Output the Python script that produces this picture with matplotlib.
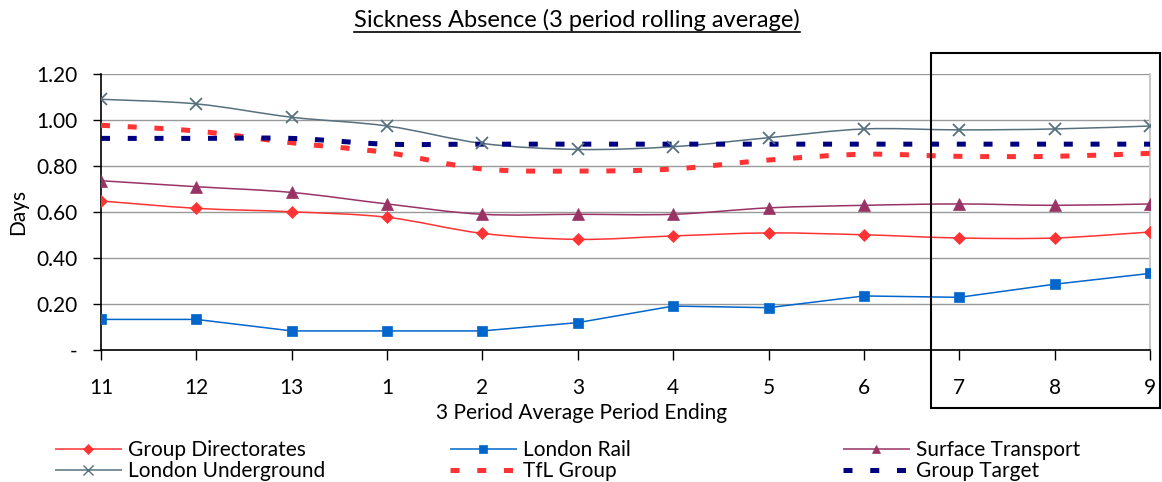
import matplotlib
matplotlib.use("Agg")
import matplotlib.pyplot as plt
from matplotlib.path import Path
from matplotlib.patches import PathPatch, Rectangle
from matplotlib.lines import Line2D
import numpy as np

plt.rcParams['font.family'] = ['Lato', 'DejaVu Sans']

periods = ["11", "12", "13", "1", "2", "3", "4", "5", "6", "7", "8", "9"]

group_directorates = [0.648, 0.616, 0.601, 0.577, 0.507, 0.481, 0.496, 0.509, 0.501, 0.487, 0.487, 0.513]
london_rail = [0.133, 0.133, 0.083, 0.083, 0.083, 0.119, 0.191, 0.184, 0.235, 0.229, 0.286, 0.333]
surface_transport = [0.736, 0.710, 0.685, 0.635, 0.590, 0.590, 0.590, 0.618, 0.629, 0.635, 0.629, 0.635]
london_underground = [1.090, 1.070, 1.012, 0.974, 0.898, 0.872, 0.884, 0.923, 0.961, 0.957, 0.961, 0.974]
tfl_group = [0.977, 0.952, 0.901, 0.858, 0.787, 0.778, 0.787, 0.826, 0.851, 0.842, 0.842, 0.855]
group_target = [0.920, 0.920, 0.920, 0.895, 0.895, 0.895, 0.895, 0.895, 0.895, 0.895, 0.895, 0.895]

yticks = [0.0, 0.2, 0.4, 0.6, 0.8, 1.0, 1.2]
ytick_labels = ["-", "0.20", "0.40", "0.60", "0.80", "1.00", "1.20"]


def series_path(x, y, tension=1.0 / 6.0):
    """Bezier path through every point (spreadsheet-style smoothed line).
    tension=0 gives straight segments."""
    pts = np.column_stack([x, y]).astype(float)
    n = len(pts)
    verts = [pts[0]]
    codes = [Path.MOVETO]
    for i in range(n - 1):
        p0 = pts[i - 1] if i > 0 else pts[i]
        p1 = pts[i]
        p2 = pts[i + 1]
        p3 = pts[i + 2] if i + 2 < n else pts[i + 1]
        c1 = p1 + (p2 - p0) * tension
        c2 = p2 - (p3 - p1) * tension
        verts += [c1, c2, p2]
        codes += [Path.CURVE4] * 3
    return Path(verts, codes)


fig = plt.figure(figsize=(11.62, 4.82), dpi=100)
ax = fig.add_axes([101 / 1162, 1 - 350 / 482, (1150 - 101) / 1162, (350 - 74) / 482])

x = np.arange(len(periods))
dash = (0, (1.8, 3.55))

series = [
    dict(y=group_directorates, label="Group Directorates", color="#FF3333", marker="D", ms=6, ls="-", lw=1.1, t=1 / 6),
    dict(y=london_rail, label="London Rail", color="#0066CC", marker="s", ms=6.5, ls="-", lw=1.1, t=0.0),
    dict(y=surface_transport, label="Surface Transport", color="#993366", marker="^", ms=8, ls="-", lw=1.1, t=1 / 6),
    dict(y=london_underground, label="London Underground", color="#56707E", marker="x", ms=8.5, ls="-", lw=1.1, t=1 / 6),
    dict(y=tfl_group, label="TfL Group", color="#FF3333", marker=None, ms=0, ls=dash, lw=3.6, t=1 / 6),
    dict(y=group_target, label="Group Target", color="#000080", marker=None, ms=0, ls=dash, lw=3.6, t=1 / 6),
]

handles = {}
for s in series:
    patch = PathPatch(series_path(x, s["y"], s["t"]), fill=False, edgecolor=s["color"],
                      linewidth=s["lw"], linestyle=s["ls"], capstyle="butt", zorder=3)
    ax.add_patch(patch)
    if s["marker"]:
        mew = 1.3 if s["marker"] == "x" else 0.5
        ax.plot(x, s["y"], linestyle="none", marker=s["marker"], markersize=s["ms"],
                color=s["color"], markeredgecolor=s["color"], markeredgewidth=mew, zorder=4)
    handles[s["label"]] = Line2D([], [], color=s["color"], linewidth=s["lw"],
                                 linestyle=s["ls"],
                                 marker=s["marker"], markersize=s["ms"] * 0.8,
                                 markeredgewidth=1.0 if s["marker"] == "x" else 0.5,
                                 solid_capstyle="butt", dash_capstyle="butt")

ax.set_xlim(0, len(periods) - 1)
ax.set_ylim(0, 1.2)
ax.set_xticks(x)
ax.set_xticklabels(periods)
ax.set_yticks(yticks)
ax.set_yticklabels(ytick_labels)
ax.tick_params(axis="x", direction="out", length=7, width=1, pad=13, labelsize=15)
ax.tick_params(axis="y", direction="out", length=6, width=1, pad=11, labelsize=15)
ax.yaxis.grid(True, color="#9a9a9a", linewidth=1.0)
ax.set_axisbelow(True)
ax.spines["top"].set_visible(False)
ax.spines["right"].set_color("#c8c8c8")
ax.spines["right"].set_linewidth(1.5)
ax.spines["left"].set_linewidth(1.2)
ax.spines["bottom"].set_linewidth(1.2)

fig.text(18 / 1162, 1 - 212 / 482, "Days", rotation=90, ha="center", va="center", fontsize=15)
fig.text(582 / 1162, 1 - 413 / 482, "3 Period Average Period Ending", ha="center", va="center", fontsize=15)

title = fig.text(577 / 1162, 1 - 20 / 482, "Sickness Absence (3 period rolling average)",
                 ha="center", va="center", fontsize=17)
fig.canvas.draw()
bb = title.get_window_extent(renderer=fig.canvas.get_renderer())
uy = 1 - 32 / 482
fig.add_artist(Line2D([bb.x0 / 1162, bb.x1 / 1162], [uy, uy], transform=fig.transFigure,
                      color="black", linewidth=1.2))

# Highlight box around the latest three periods
fig.add_artist(Rectangle((931 / 1162, 1 - 408 / 482), (1160 - 931) / 1162, (408 - 53) / 482,
                         transform=fig.transFigure, fill=False, edgecolor="black",
                         linewidth=1.5, zorder=10))

columns = [
    (55, ["Group Directorates", "London Underground"]),
    (450, ["London Rail", "TfL Group"]),
    (843, ["Surface Transport", "Group Target"]),
]
for xpos, labels in columns:
    fig.legend([handles[l] for l in labels], labels, loc="upper left",
               bbox_to_anchor=(xpos / 1162, 1 - 440 / 482), bbox_transform=fig.transFigure,
               frameon=False, fontsize=15, handlelength=3.2, handletextpad=0.3,
               labelspacing=0.05, borderpad=0, borderaxespad=0)

fig.savefig("out.png", dpi=100)
